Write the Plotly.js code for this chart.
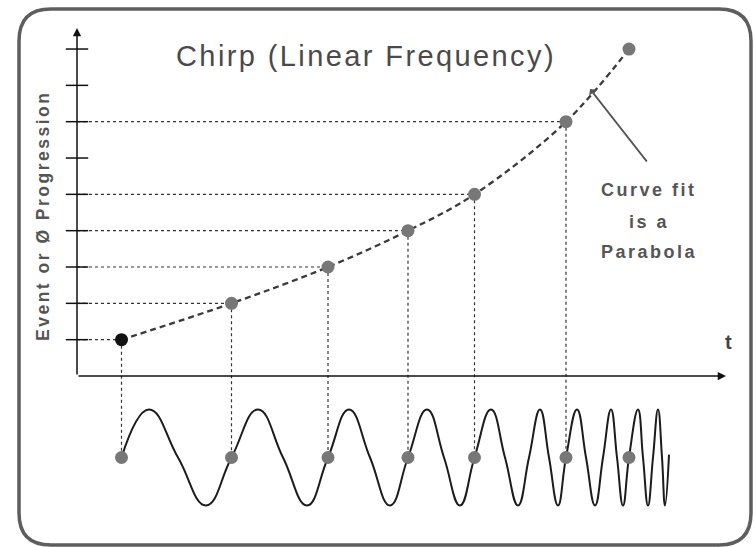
<!DOCTYPE html>
<html>
<head>
<meta charset="utf-8">
<script src="https://cdn.plot.ly/plotly-3.0.1.min.js"></script>
<style>
  html, body { margin: 0; padding: 0; background: #fff; }
  #chart { width: 756px; height: 547px; }
  .gtitle { letter-spacing: 2.4px; }
  .annotation-text { letter-spacing: 2.5px; }
</style>
</head>
<body>
<div id="chart"></div>
<script>
// ---------- data ----------
// time of each event (arbitrary t units) and cumulative phase / event number
const eventT = [0.445, 1.545, 2.51, 3.31, 3.975, 4.89, 5.52];
const eventPhase = [1, 2, 3, 4, 5, 7, 9];
// y-axis tick positions
const yTicks = [1, 2, 3, 4, 5, 6, 7, 8, 9];
// chirp waveform: turning points and zero crossings (normalised amplitude)
const waveT = [0.445, 0.72, 1.01, 1.29, 1.545, 1.81, 2.06, 2.30, 2.51, 2.72, 2.93, 3.13,
               3.31, 3.50, 3.67, 3.83, 3.975, 4.14, 4.28, 4.41, 4.52, 4.63, 4.72, 4.81,
               4.89, 5.00, 5.09, 5.18, 5.26, 5.34, 5.40, 5.46, 5.52, 5.61, 5.66, 5.71,
               5.76, 5.81, 5.85, 5.88, 5.92];
const waveV = [0, 1, 0, -1, 0, 1, 0, -1, 0, 1, 0, -1,
               0, 1, 0, -1, 0, 1, 0, -1, 0, 1, 0, -1,
               0, 1, 0, -1, 0, 1, 0, -1, 0, 1, 0, -1,
               0, 1, 0, -1, 0.06];
const guideCount = 6;   // events that get dotted projection lines

// ---------- layout constants ----------
const W = 756, H = 547;
const ORIGIN_PX = 77, T_PX = 100;          // x: px = ORIGIN_PX + t*T_PX
const AXIS_PY = 376, UNIT_PY = 36.33;      // y: py = AXIS_PY - y*UNIT_PY
const WAVE_MID = (AXIS_PY - 457.5) / UNIT_PY;
const WAVE_AMP = 48 / UNIT_PY;
const pxX = p => p / W;
const pxY = p => 1 - p / H;
const toT = p => (p - ORIGIN_PX) / T_PX;
const toY = p => (AXIS_PY - p) / UNIT_PY;

// ---------- traces ----------
const hx = [], hy = [], vx = [], vy = [];
for (let i = 0; i < guideCount; i++) {
  hx.push(0, eventT[i], null); hy.push(eventPhase[i], eventPhase[i], null);
  vx.push(eventT[i], eventT[i], null); vy.push(eventPhase[i], WAVE_MID, null);
}
const dotted = {dash: 'dot', width: 1.2, color: '#333'};
const traces = [
  {x: hx, y: hy, mode: 'lines', line: dotted, hoverinfo: 'skip'},
  {x: vx, y: vy, mode: 'lines', line: dotted, hoverinfo: 'skip'},
  {x: eventT, y: eventPhase, mode: 'lines',
   line: {shape: 'spline', smoothing: 1, dash: '6px,4px', width: 2.3, color: '#3a3a3a'}},
  {x: waveT, y: waveV.map(v => WAVE_MID + WAVE_AMP * v), mode: 'lines',
   line: {shape: 'spline', smoothing: 1.3, width: 2, color: '#1c1c1c'}},
  {x: yTicks.map(() => 0), y: yTicks, mode: 'markers',
   marker: {symbol: 'line-ew', size: 16, line: {width: 1.5, color: '#111'}}},
  {x: eventT, y: eventPhase, mode: 'markers',
   marker: {size: 13, color: eventT.map((_, i) => i === 0 ? '#111' : '#777'), line: {width: 0}}},
  {x: eventT, y: eventT.map(() => WAVE_MID), mode: 'markers',
   marker: {size: 13, color: '#777', line: {width: 0}}}
];

// ---------- frame ----------
const L = 19, R = 751, T = 9, B = 545, r = 32;
const P = (x, y) => pxX(x) + ',' + pxY(y);
const framePath = 'M' + P(L + r, T) + ' L' + P(R - r, T) + ' Q' + P(R, T) + ' ' + P(R, T + r) +
  ' L' + P(R, B - r) + ' Q' + P(R, B) + ' ' + P(R - r, B) +
  ' L' + P(L + r, B) + ' Q' + P(L, B) + ' ' + P(L, B - r) +
  ' L' + P(L, T + r) + ' Q' + P(L, T) + ' ' + P(L + r, T) + ' Z';

const arrow = (x, y, ax, ay, color, width, head, size) => ({
  x: x, y: y, ax: ax, ay: ay, xref: 'x', yref: 'y', axref: 'x', ayref: 'y',
  text: '', showarrow: true, arrowhead: head, arrowsize: size, arrowwidth: width,
  arrowcolor: color, standoff: 0, startstandoff: 0
});
const label = (text, x, y, size, extra) => Object.assign({
  text: text, x: pxX(x), y: pxY(y), xref: 'paper', yref: 'paper',
  xanchor: 'center', yanchor: 'middle', showarrow: false,
  font: {family: 'Liberation Sans, Arial, sans-serif', size: size, color: '#555', weight: 'bold'}
}, extra || {});

const layout = {
  width: W, height: H,
  margin: {l: 0, r: 0, t: 0, b: 0, pad: 0},
  paper_bgcolor: '#fff', plot_bgcolor: 'rgba(0,0,0,0)',
  showlegend: false, hovermode: false,
  title: {text: 'Chirp (Linear Frequency)', x: pxX(366), xanchor: 'center',
          y: pxY(56), yanchor: 'middle',
          font: {family: 'Liberation Sans, Arial, sans-serif', size: 29, color: '#4a4a4a'}},
  xaxis: {range: [toT(0), toT(W)], visible: false, fixedrange: true},
  yaxis: {range: [toY(H), toY(0)], visible: false, fixedrange: true},
  shapes: [{type: 'path', path: framePath, xref: 'paper', yref: 'paper',
            line: {color: '#5e5e5e', width: 3.5}, layer: 'above'}],
  annotations: [
    arrow(0, toY(28), 0, 0, '#111', 1.5, 2, 1.1),
    arrow(toT(726), 0, 0, 0, '#111', 1.5, 2, 1.1),
    arrow(toT(590), toY(89), toT(648), toY(163), '#555', 2, 1, 0.8),
    label('Curve fit', 649, 190, 18),
    label('is a', 649, 222, 18),
    label('Parabola', 649, 252, 18),
    label('Event or Ø Progression', 43, 216, 17.5, {textangle: -90}),
    label('t', 729, 342, 20, {font: {family: 'Liberation Sans, Arial, sans-serif', size: 20, color: '#444', weight: 'bold'}})
  ]
};

Plotly.newPlot('chart', traces, layout, {staticPlot: true, displayModeBar: false});
</script>
</body>
</html>
